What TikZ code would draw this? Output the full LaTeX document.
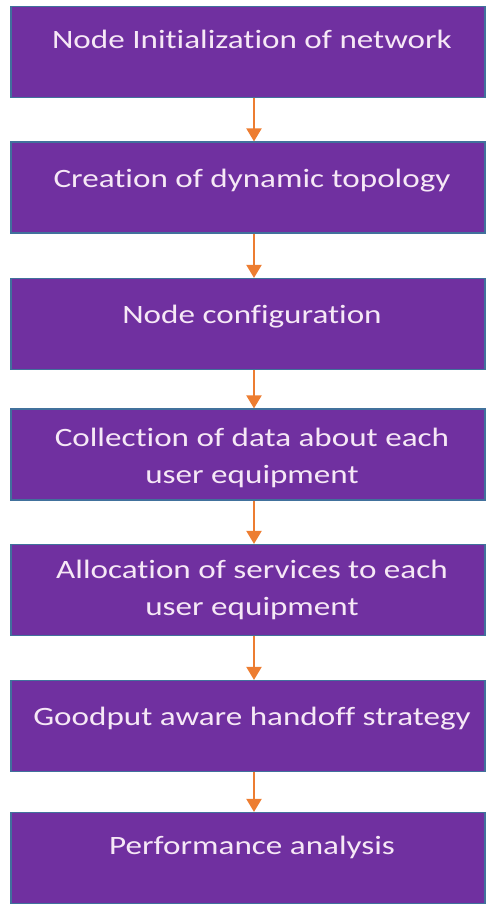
\documentclass[tikz,border=0pt]{standalone}
\usepackage{fontspec}
\setmainfont[FakeStretch=1.25,Ligatures={NoCommon}]{Carlito}
\usetikzlibrary{arrows.meta}
\definecolor{boxfill}{HTML}{7030A0}
\definecolor{boxline}{HTML}{41719C}
\definecolor{arrowc}{HTML}{ED7D31}
\definecolor{txt}{HTML}{F6E8F6}
\begin{document}
\begin{tikzpicture}[x=1pt,y=-1pt,
 stepbox/.style={draw=boxline, line width=1.2pt, fill=boxfill, minimum width=474pt, minimum height=91pt, inner sep=0pt},
 steptext/.style={text=txt, font=\fontsize{26.5}{37}\selectfont, align=center, anchor=base, inner sep=0pt},
 flow/.style={draw=arrowc, line width=2pt, -{Triangle[width=15pt,length=13pt]}}]
\useasboundingbox (0,0) rectangle (488,904);
\coordinate (ax) at (254,0);
\node[stepbox] (b1) at (248,52) {};
\node[stepbox] (b2) at (248,187.5) {};
\node[stepbox] (b3) at (248,324) {};
\node[stepbox] (b4) at (248,454.5) {};
\node[stepbox] (b5) at (248,590) {};
\node[stepbox] (b6) at (248,726) {};
\node[stepbox] (b7) at (248,858) {};
\node[steptext] (t1) at (252,49) {Node Initialization of network};
\node[steptext] (t2) at (252,187) {Creation of dynamic topology};
\node[steptext] (t3) at (252,323) {Node configuration};
\node[steptext] (t4) at (252,483) {Collection of data about each\\user equipment};
\node[steptext] (t5) at (252,615) {Allocation of services to each\\user equipment};
\node[steptext] (t6) at (252,725) {Goodput aware handoff strategy};
\node[steptext] (t7) at (252,854) {Performance analysis};
\draw[flow] (b1.south -| ax) -- (b2.north -| ax);
\draw[flow] (b2.south -| ax) -- (b3.north -| ax);
\draw[flow] (b3.south -| ax) -- (b4.north -| ax);
\draw[flow] (b4.south -| ax) -- (b5.north -| ax);
\draw[flow] (b5.south -| ax) -- (b6.north -| ax);
\draw[flow] (b6.south -| ax) -- (b7.north -| ax);
\end{tikzpicture}
\end{document}
